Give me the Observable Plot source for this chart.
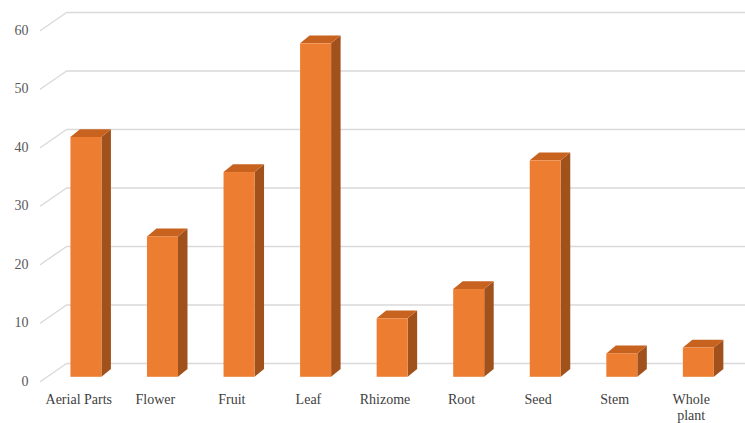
<!DOCTYPE html>
<html>
<head>
<meta charset="utf-8">
<script src="https://cdn.jsdelivr.net/npm/d3@7"></script>
<script src="https://cdn.jsdelivr.net/npm/@observablehq/plot@0.6"></script>
<style>
  body { margin: 0; background: #fff; }
</style>
</head>
<body>
<div id="chart"></div>
<script>
const categories = ["Aerial Parts", "Flower", "Fruit", "Leaf", "Rhizome", "Root", "Seed", "Stem", "Whole plant"];
const tickLabels = ["Aerial Parts", "Flower", "Fruit", "Leaf", "Rhizome", "Root", "Seed", "Stem", "Whole\nplant"];
const counts = [41, 24, 35, 57, 10, 15, 37, 4, 5];
const yTicks = [0, 10, 20, 30, 40, 50, 60];

// Oblique 3-D projection: stepping into depth moves right (x units) and up (y units).
const wallDX = 0.34, wallDY = 3.08;     // floor front edge -> back wall
const barDX = 0.10, barDY = 0.72;       // floor front edge -> bar front face
const depthDX = 0.124, depthDY = 1.33;  // bar thickness
const barW = 0.405;
const n = categories.length;

const FRONT = "#ED7D31", TOP = "#C8621F", SIDE = "#A1521C";

const bars = categories.map((c, i) => {
  const x1 = i + 0.5 - barW / 2 + barDX;
  return {c, x1, x2: x1 + barW, y0: barDY, y1: counts[i] + barDY};
});

// gridlines: short diagonal across the floor edge, then along the back wall
const grid = yTicks.flatMap(t => [
  {t, x: 0, y: t},
  {t, x: wallDX, y: t + wallDY},
  {t, x: n + wallDX, y: t + wallDY}
]);

const sides = bars.flatMap(b => [
  {c: b.c, x: b.x2, lo: b.y0, hi: b.y1},
  {c: b.c, x: b.x2 + depthDX, lo: b.y0 + depthDY, hi: b.y1 + depthDY}
]);

const tops = bars.flatMap(b => [
  {c: b.c, x: b.x1, lo: b.y1, hi: b.y1},
  {c: b.c, x: b.x1 + depthDX, lo: b.y1, hi: b.y1 + depthDY},
  {c: b.c, x: b.x2, lo: b.y1, hi: b.y1 + depthDY},
  {c: b.c, x: b.x2 + depthDX, lo: b.y1 + depthDY, hi: b.y1 + depthDY}
]);

const chart = Plot.plot({
  width: 745,
  height: 423,
  marginLeft: 40,
  marginRight: 16,
  marginTop: 30,
  marginBottom: 42,
  style: {fontFamily: "'Liberation Serif', serif", color: "#595959", background: "#fff"},
  x: {domain: [0, n], axis: null, label: null},
  y: {domain: [0, 60], axis: null, label: null},
  marks: [
    Plot.line(grid, {x: "x", y: "y", z: "t", stroke: "#d9d9d9", strokeWidth: 1.4, curve: "linear"}),
    Plot.areaY(sides, {x: "x", y1: "lo", y2: "hi", z: "c", fill: SIDE, curve: "linear"}),
    Plot.areaY(tops, {x: "x", y1: "lo", y2: "hi", z: "c", fill: TOP, curve: "linear"}),
    Plot.rect(bars, {x1: "x1", x2: "x2", y1: "y0", y2: "y1", fill: FRONT}),
    Plot.axisY({ticks: yTicks, tickSize: 0, tickPadding: 12, fontSize: 14, label: null, fill: "#595959"}),
    Plot.axisX({
      ticks: d3.range(n).map(i => i + 0.5),
      tickFormat: d => tickLabels[Math.round(d - 0.5)],
      tickSize: 0, tickPadding: 11, fontSize: 14, label: null, fill: "#404040", lineHeight: 1.15
    })
  ]
});

document.getElementById("chart").append(chart);
</script>
</body>
</html>
